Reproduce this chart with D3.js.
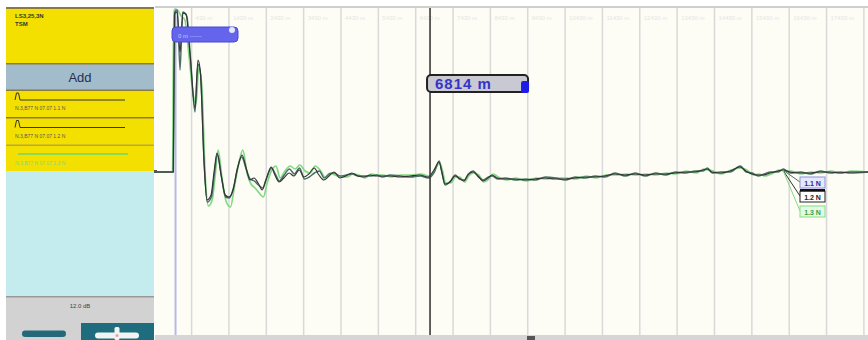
<!DOCTYPE html>
<html>
<head>
<meta charset="utf-8">
<script src="https://cdn.jsdelivr.net/npm/d3@7"></script>
<style>
  html, body { margin: 0; padding: 0; background: #ffffff; }
  svg { display: block; font-family: "Liberation Sans", Arial, sans-serif; }
</style>
</head>
<body>
<div id="viz"></div>
<script>

// distance in km, level in dB
const trace1 = [[-0.55,0],[-0.06,0],[-0.02,40],[0.05,40.5],[0.12,25.5],[0.19,40],[0.3,39],[0.4,28.5],[0.52,15],[0.6,27],[0.67,24.5],[0.77,1.5],[0.85,-7.5],[0.96,-6.25],[1.04,-0.5],[1.12,4.5],[1.23,-1.25],[1.34,-6.25],[1.44,-6.5],[1.55,-4],[1.66,1],[1.77,3.75],[1.9,0.5],[2.0,-1.75],[2.11,-2.25],[2.22,-3.25],[2.33,-4],[2.44,-1.5],[2.57,1],[2.67,-0.5],[2.78,-2.25],[2.91,-0.75],[3.05,0.75],[3.18,-0.5],[3.32,1],[3.45,-1.75],[3.58,-1.25],[3.72,-0.25],[3.85,0.25],[3.98,-1.5],[4.12,-0.5],[4.25,-0.25],[4.41,-1],[4.57,-0.75],[4.73,-0.5],[4.89,-1],[5.06,-1],[5.22,-1],[5.38,-0.75],[5.54,-1.25],[5.75,-0.75],[6.02,-1],[6.29,-1.25],[6.55,-1],[6.77,-1.5],[6.93,0],[7.06,2.75],[7.14,-0.5],[7.22,-3.25],[7.36,-2.25],[7.49,-0.75],[7.6,-1.75],[7.73,-2],[7.84,-0.5],[7.97,0.25],[8.11,-1.25],[8.24,-2],[8.38,-1.25],[8.48,-1],[8.62,-1.75],[8.83,-1.5],[9.1,-2],[9.37,-1.75],[9.63,-2],[9.9,-1.25],[10.17,-1.5],[10.44,-2],[10.7,-1.25],[10.97,-1.5],[11.24,-1],[11.5,-1.25],[11.77,-0.25],[12.04,-1],[12.31,-0.25],[12.58,-1],[12.85,-0.25],[13.12,-0.75],[13.38,0],[13.65,-0.25],[13.92,0.25],[14.13,0.25],[14.24,1],[14.37,-0.25],[14.59,0],[14.85,0],[15.12,1.5],[15.28,0],[15.44,-0.25],[15.6,-1],[15.76,-0.5],[15.93,0],[16.14,0],[16.27,0.75],[16.46,-0.25],[16.73,0],[17.0,-0.5],[17.26,0.25],[17.53,-0.25],[17.8,0],[18.07,-0.25],[18.54,0]]

const trace2 = [[-0.55,0],[-0.06,0],[-0.03,39.5],[0.04,40],[0.12,30],[0.2,39.75],[0.28,39.5],[0.39,29.25],[0.52,16],[0.6,28],[0.66,25.5],[0.76,3],[0.84,-7],[0.95,-5.75],[1.03,0],[1.11,4.75],[1.22,-0.75],[1.33,-5.75],[1.43,-6.25],[1.54,-4.5],[1.65,0.5],[1.78,4.25],[1.89,1],[1.99,-2],[2.1,-1.5],[2.21,-2.75],[2.32,-4.5],[2.42,-2],[2.56,1.25],[2.66,-0.75],[2.77,-2.5],[2.9,-1.5],[3.04,-0.25],[3.17,-1],[3.31,0.5],[3.44,-1.25],[3.57,-0.5],[3.71,1],[3.84,-0.75],[3.97,-2],[4.11,-1],[4.24,0],[4.4,-1.5],[4.56,-1],[4.72,-0.25],[4.88,-1],[5.05,-1.25],[5.21,-0.75],[5.37,-1],[5.53,-1],[5.74,-1],[6.01,-1.25],[6.28,-1],[6.54,-0.75],[6.76,-1.25],[6.92,0.5],[7.05,2.5],[7.13,0],[7.21,-3],[7.35,-2.5],[7.48,-1],[7.59,-1.5],[7.72,-2.25],[7.83,-0.75],[7.96,0],[8.1,-1],[8.23,-2.25],[8.37,-1.5],[8.47,-0.75],[8.61,-1.5],[8.82,-1.75],[9.09,-1.75],[9.36,-2],[9.62,-1.75],[9.89,-1.5],[10.16,-1.75],[10.43,-1.75],[10.69,-1.5],[10.96,-1.25],[11.23,-1.25],[11.49,-1],[11.76,-0.5],[12.03,-0.75],[12.3,-0.5],[12.57,-0.75],[12.84,-0.5],[13.11,-0.5],[13.37,-0.25],[13.64,0],[13.91,0],[14.12,0.5],[14.23,0.75],[14.36,0],[14.58,-0.25],[14.84,0.25],[15.11,1.25],[15.27,0.25],[15.43,-0.5],[15.59,-0.75],[15.75,-0.75],[15.92,-0.25],[16.13,0.25],[16.26,0.5],[16.45,0],[16.72,-0.25],[16.99,-0.25],[17.25,0],[17.52,0],[17.79,-0.25],[18.06,0],[18.54,0]]

const trace3 = [[-0.55,0],[-0.08,0],[-0.05,40.5],[0.05,40.5],[0.15,39],[0.25,38],[0.35,30],[0.48,19],[0.55,17],[0.62,26],[0.7,22],[0.8,-2],[0.88,-8.5],[0.98,-7],[1.06,-1],[1.14,5.5],[1.25,-2],[1.36,-7.5],[1.47,-8.75],[1.58,-3.5],[1.69,2],[1.8,5.5],[1.92,-0.5],[2.02,-3],[2.13,-4],[2.24,-5.25],[2.35,-6.25],[2.46,-2.5],[2.58,0.5],[2.69,1.5],[2.8,-1.5],[2.93,0.25],[3.07,1.5],[3.2,0.75],[3.33,1.75],[3.47,0.25],[3.6,-0.25],[3.74,1.5],[3.87,0.5],[4.0,-1.25],[4.14,-0.25],[4.27,-0.75],[4.43,-1.25],[4.59,-1.25],[4.75,-0.5],[4.91,-0.75],[5.07,-1.5],[5.24,-0.5],[5.4,-0.75],[5.56,-0.75],[5.77,-1.25],[6.04,-0.75],[6.31,-0.75],[6.57,-0.5],[6.79,-1],[6.95,0.75],[7.07,2.25],[7.15,0.25],[7.23,-2.75],[7.37,-2.75],[7.5,-1.25],[7.61,-1.25],[7.74,-2.5],[7.85,-1],[7.98,-0.25],[8.12,-0.75],[8.25,-2.5],[8.39,-1.75],[8.5,-0.5],[8.64,-1.25],[8.85,-2],[9.12,-1.5],[9.39,-2.25],[9.65,-1.5],[9.92,-1.75],[10.19,-1.5],[10.46,-1.5],[10.72,-1.75],[10.99,-1],[11.26,-1.5],[11.52,-0.75],[11.79,-0.75],[12.06,-0.5],[12.33,-0.75],[12.6,-0.5],[12.87,-0.75],[13.14,-0.25],[13.4,-0.5],[13.67,0.25],[13.94,-0.25],[14.15,0.75],[14.26,0.5],[14.39,0.25],[14.61,-0.5],[14.87,0.5],[15.14,1],[15.3,0.5],[15.46,-0.75],[15.62,-0.5],[15.78,-1],[15.95,-0.5],[16.16,0.5],[16.29,0.25],[16.48,0.25],[16.75,-0.5],[17.02,0],[17.28,-0.25],[17.55,0.25],[17.82,-0.25],[18.09,0.25],[18.54,0]]

const traceNames = ["1.1 N", "1.2 N", "1.3 N"]
const rowTexts = ["N.3,B77 N 07.07 1.1 N", "N.3,B77 N 07.07 1.2 N", "N.3,B77 N 07.07 1.3 N"]
const gridKm = [0.43, 1.43, 2.43, 3.43, 4.43, 5.43, 6.43, 7.43, 8.43, 9.43, 10.43, 11.43, 12.43, 13.43, 14.43, 15.43, 16.43, 17.43, 18.43]
const cursorKm = 6.814
const markerKm = 0
const cursorLabel = "6814 m"
const headerLines = ["LS3,25,3N", "TSM"]
const gainLabel = "12.0 dB"

const width = 868
const height = 340

const svg = d3.select("#viz")
    .append("svg")
    .attr("width", width)
    .attr("height", height)

const x = d3.scaleLinear().domain([-0.55, 18.54]).range([155, 868])
const y = d3.scaleLinear().domain([41, -40.75]).range([8, 335])

// plot background
svg.append("rect").attr("x", 155).attr("y", 8).attr("width", 713).attr("height", 327).attr("fill", "#fdfdf6")
svg.append("rect").attr("x", 155).attr("y", 6).attr("width", 713).attr("height", 2).attr("fill", "#cfcfcf")
svg.append("rect").attr("x", 155).attr("y", 335).attr("width", 713).attr("height", 5).attr("fill", "#d6d6d6")
svg.append("rect").attr("x", 527).attr("y", 336).attr("width", 8).attr("height", 4).attr("fill", "#555")

// grid
svg.append("g")
    .selectAll("line")
    .data(gridKm)
    .join("line")
    .attr("x1", d => x(d)).attr("x2", d => x(d))
    .attr("y1", 8).attr("y2", 335)
    .attr("stroke", "#d9d9d9")
    .attr("stroke-width", 1.5)

// faint distance labels next to the grid lines
svg.append("g")
    .selectAll("text")
    .data(gridKm.filter(d => x(d) + 30 < width))
    .join("text")
    .attr("x", d => x(d) + 4)
    .attr("y", 20)
    .attr("font-size", 6)
    .attr("fill", "#e6e6e2")
    .text(d => d3.format(".0f")(d * 1000) + " m")

// zero marker
svg.append("line")
    .attr("x1", x(markerKm)).attr("x2", x(markerKm))
    .attr("y1", 8).attr("y2", 335)
    .attr("stroke", "#b8b8e8").attr("stroke-width", 2)

// traces
const line = d3.line()
    .x(d => x(d[0]))
    .y(d => y(d[1]))
    .curve(d3.curveMonotoneX)

const traces = [
    {name: traceNames[2], data: trace3, color: "#84d884", w: 1.7},
    {name: traceNames[0], data: trace1, color: "#4a7068", w: 1.5},
    {name: traceNames[1], data: trace2, color: "#333333", w: 1.1}
]

svg.append("g")
    .selectAll("path")
    .data(traces)
    .join("path")
    .attr("d", d => line(d.data))
    .attr("fill", "none")
    .attr("stroke", d => d.color)
    .attr("stroke-width", d => d.w)
    .attr("stroke-linejoin", "round")

// trace labels at the end
const lab = svg.append("g")
const ax = x(16.26), ay = y(0.5)
const boxes = [
    {t: traceNames[0], y0: 177, fill: "#e6e8fb", stroke: "#8e90e0", text: "#2a2a9a", lead: "#4a7068"},
    {t: traceNames[1], y0: 191, fill: "#ffffff", stroke: "#222", text: "#222", lead: "#333"},
    {t: traceNames[2], y0: 206, fill: "#e4fae4", stroke: "#86dc86", text: "#3aa03a", lead: "#84d884"}
]
lab.selectAll("line")
    .data(boxes)
    .join("line")
    .attr("x1", ax).attr("y1", ay)
    .attr("x2", 800).attr("y2", d => d.y0 + 5)
    .attr("stroke", d => d.lead).attr("stroke-width", 1)
lab.selectAll("rect")
    .data(boxes)
    .join("rect")
    .attr("x", 800).attr("y", d => d.y0)
    .attr("width", 25).attr("height", 11)
    .attr("fill", d => d.fill)
    .attr("stroke", d => d.stroke).attr("stroke-width", 1)
lab.append("rect").attr("x", 800).attr("y", 189).attr("width", 25).attr("height", 2.5).attr("fill", "#111")
lab.selectAll("text")
    .data(boxes)
    .join("text")
    .attr("x", 812.5).attr("y", d => d.y0 + 8.5)
    .attr("text-anchor", "middle")
    .attr("font-size", 7).attr("font-weight", "bold")
    .attr("fill", d => d.text)
    .text(d => d.t)

// cursor
svg.append("line")
    .attr("x1", x(cursorKm)).attr("x2", x(cursorKm))
    .attr("y1", 8).attr("y2", 335)
    .attr("stroke", "#3a3a3a").attr("stroke-width", 1.6)

const cx = x(cursorKm)
svg.append("rect")
    .attr("x", cx - 3).attr("y", 75).attr("width", 101).attr("height", 17)
    .attr("rx", 4)
    .attr("fill", "#c9c9d3").attr("stroke", "#222").attr("stroke-width", 2)
svg.append("rect")
    .attr("x", cx + 91).attr("y", 81).attr("width", 8).attr("height", 12)
    .attr("rx", 2).attr("fill", "#1c1ce6")
svg.append("text")
    .attr("x", cx + 5).attr("y", 89)
    .attr("font-size", 15).attr("font-weight", "bold")
    .attr("letter-spacing", 1)
    .attr("fill", "#3434c8")
    .text(cursorLabel)

// start marker flag
svg.append("rect")
    .attr("x", 172).attr("y", 27).attr("width", 66).attr("height", 15)
    .attr("rx", 4)
    .attr("fill", "#6464ec").attr("stroke", "#4848d8")
svg.append("circle").attr("cx", 232).attr("cy", 30).attr("r", 3).attr("fill", "#e6e6ff")
svg.append("text")
    .attr("x", 178).attr("y", 37.5)
    .attr("font-size", 6).attr("fill", "#c8c8ff")
    .text("0 m  ------")

// left panel
const panel = svg.append("g")
panel.append("rect").attr("x", 6).attr("y", 8).attr("width", 148).attr("height", 332).attr("fill", "#c4ecee")
panel.append("rect").attr("x", 6).attr("y", 8).attr("width", 148).attr("height", 57).attr("fill", "#f4e000")
panel.append("rect").attr("x", 6).attr("y", 7).attr("width", 148).attr("height", 2).attr("fill", "#8c7a3a")
panel.selectAll(".hdr")
    .data(headerLines)
    .join("text")
    .attr("class", "hdr")
    .attr("x", 15).attr("y", (d, i) => 18 + i * 8)
    .attr("font-size", 6).attr("font-weight", "bold").attr("fill", "#333")
    .text(d => d)

panel.append("rect").attr("x", 6).attr("y", 64).attr("width", 148).attr("height", 26).attr("fill", "#a3bccb")
panel.append("rect").attr("x", 6).attr("y", 63).attr("width", 148).attr("height", 1.5).attr("fill", "#8c7a3a")
panel.append("text")
    .attr("x", 80).attr("y", 82)
    .attr("text-anchor", "middle")
    .attr("font-size", 13).attr("fill", "#23304e")
    .text("Add")

const rowTop = [90, 117.5, 145]
const rowCol = ["#333", "#333", "#6ad86a"]
const rowTextCol = ["#555", "#555", "#7ed87e"]
panel.selectAll(".row")
    .data(rowTop)
    .join("rect")
    .attr("class", "row")
    .attr("x", 6).attr("y", d => d).attr("width", 148).attr("height", d => d === 145 ? 26 : 27.5)
    .attr("fill", "#f4e000")
panel.selectAll(".sep")
    .data(rowTop)
    .join("rect")
    .attr("class", "sep")
    .attr("x", 6).attr("y", d => d - 0.5).attr("width", 148).attr("height", 1.5)
    .attr("fill", (d, i) => i === 2 ? "#b8a84a" : "#8c7a3a")

rowTop.forEach(function (t, i) {
    const ly = t + (i === 2 ? 9 : 10)
    const icon = i === 2
        ? [[18, ly], [128, ly]]
        : [[15, ly], [16.5, t + 3], [18.5, t + 3], [20, ly], [125, ly]]
    panel.append("path")
        .attr("d", d3.line()(icon))
        .attr("fill", "none")
        .attr("stroke", rowCol[i]).attr("stroke-width", i === 2 ? 1.5 : 1)
    panel.append("text")
        .attr("x", 15).attr("y", t + 20)
        .attr("font-size", 5).attr("fill", rowTextCol[i])
        .text(rowTexts[i])
})

// bottom controls
panel.append("rect").attr("x", 6).attr("y", 297).attr("width", 148).attr("height", 43).attr("fill", "#d2d2d2")
panel.append("rect").attr("x", 6).attr("y", 296).attr("width", 148).attr("height", 1.5).attr("fill", "#999")
panel.append("text")
    .attr("x", 80).attr("y", 308)
    .attr("text-anchor", "middle")
    .attr("font-size", 6).attr("fill", "#444")
    .text(gainLabel)
panel.append("rect").attr("x", 22).attr("y", 330.5).attr("width", 44).attr("height", 6.5).attr("rx", 3.2).attr("fill", "#24687a")
panel.append("rect").attr("x", 81).attr("y", 323).attr("width", 73).attr("height", 17).attr("fill", "#1f6c7e")
panel.append("rect").attr("x", 95).attr("y", 332.5).attr("width", 44).attr("height", 6).attr("rx", 3).attr("fill", "#f2f4f4")
panel.append("rect").attr("x", 114.5).attr("y", 327).attr("width", 5).attr("height", 13).attr("rx", 1.5).attr("fill", "#f2f4f4")
panel.append("circle").attr("cx", 117).attr("cy", 335.5).attr("r", 1.5).attr("fill", "#e8a0b0")

// little baseline tick at panel edge
svg.append("rect").attr("x", 154).attr("y", 170).attr("width", 3).attr("height", 3).attr("fill", "#555")

</script>
</body>
</html>
